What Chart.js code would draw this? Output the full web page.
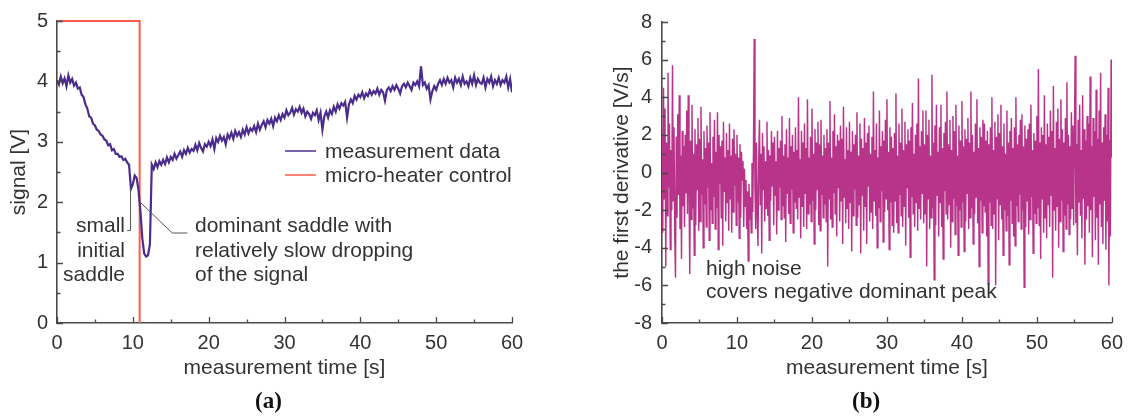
<!DOCTYPE html>
<html>
<head>
<meta charset="utf-8">
<script src="https://cdn.jsdelivr.net/npm/chart.js@4.4.1/dist/chart.umd.min.js"></script>
<style>
  html, body { margin: 0; padding: 0; background: #fff; }
  body { width: 1131px; height: 419px; position: relative; overflow: hidden; }
  .panel { position: absolute; top: 0; height: 419px; }
  #panelA { left: 0; width: 560px; }
  #panelB { left: 560px; width: 571px; }
  .tag { position: absolute; top: 388px; font: bold 23px "Liberation Serif", "DejaVu Serif", serif; color: #111; }
</style>
</head>
<body>
<div class="panel" id="panelA"><canvas id="chartA" width="560" height="419"></canvas></div>
<div class="panel" id="panelB"><canvas id="chartB" width="571" height="419"></canvas></div>
<div class="tag" style="left:255px">(a)</div>
<div class="tag" style="left:852px">(b)</div>
<script>
// signal [V], sampled every 0.25 s from 0 to 60 s
const signalStep = 0.25;
const signalValues = [
  4.02, 3.95, 4.08, 3.97, 4.05, 3.92, 4.10, 3.98,
  4.04, 3.93, 3.98, 3.88, 3.90, 3.78, 3.74, 3.62,
  3.55, 3.42, 3.40, 3.30, 3.27, 3.20, 3.18, 3.12,
  3.10, 3.04, 3.02, 2.94, 2.96, 2.86, 2.88, 2.80,
  2.80, 2.75, 2.76, 2.70, 2.72, 2.66, 2.62, 2.22,
  2.30, 2.44, 2.40, 2.20, 1.85, 1.40, 1.15, 1.10,
  1.12, 1.30, 2.62, 2.55, 2.66, 2.58, 2.68, 2.62,
  2.70, 2.63, 2.74, 2.66, 2.75, 2.70, 2.80, 2.72,
  2.78, 2.84, 2.75, 2.86, 2.80, 2.90, 2.82, 2.88,
  2.85, 2.95, 2.86, 2.98, 2.90, 2.84, 2.96, 2.92,
  3.00, 2.93, 3.04, 2.88, 3.06, 3.00, 3.10, 3.02,
  3.08, 2.96, 3.12, 3.06, 3.15, 3.05, 3.18, 3.10,
  3.16, 3.08, 3.20, 3.12, 3.24, 3.14, 3.22, 3.18,
  3.26, 3.16, 3.30, 3.20, 3.28, 3.34, 3.24, 3.36,
  3.30, 3.38, 3.26, 3.40, 3.34, 3.44, 3.36, 3.46,
  3.40, 3.52, 3.44, 3.48, 3.56, 3.45, 3.54, 3.50,
  3.58, 3.48, 3.55, 3.42, 3.50, 3.46, 3.38, 3.48,
  3.44, 3.52, 3.36, 3.48, 3.20, 3.42, 3.50, 3.40,
  3.52, 3.46, 3.58, 3.50, 3.62, 3.55, 3.64, 3.60,
  3.66, 3.40, 3.62, 3.70, 3.64, 3.76, 3.70, 3.78,
  3.74, 3.82, 3.72, 3.80, 3.76, 3.85, 3.78, 3.84,
  3.80, 3.88, 3.78, 3.86, 3.82, 3.68, 3.86, 3.90,
  3.84, 3.92, 3.86, 3.94, 3.88, 3.80, 3.92, 3.96,
  3.90, 3.98, 3.92, 3.86, 3.98, 3.94, 4.00, 3.92,
  4.25, 3.94, 3.98, 3.88, 3.94, 3.70, 3.84, 3.92,
  3.86, 3.96, 4.02, 3.94, 4.04, 3.96, 4.06, 3.98,
  4.02, 3.90, 4.06, 3.98, 4.04, 3.94, 4.08, 3.96,
  4.00, 3.92, 4.06, 3.96, 4.10, 3.94, 4.04, 3.98,
  3.96, 4.06, 3.90, 4.04, 3.98, 4.08, 3.92, 4.02,
  3.96, 4.06, 3.94, 4.02, 3.98, 4.08, 3.90, 4.04,
  3.82
];

// micro-heater control step
const heaterTimes = [0, 10.9, 10.9];
const heaterValues = [5, 5, 0];

// first derivative [V/s], sampled every 0.1 s from 0 to 60 s (one row per second)
const derivStep = 0.1;
const derivValues = [
  2.1, -3.2, 4.5, -1.4, 3.4, -5.0, 1.6, -2.3, 5.3, -0.8,
  2.6, -4.1, 1.2, -2.0, 5.7, -1.5, 2.4, -3.3, -5.6, 1.9,
  -2.4, 3.1, -1.2, 4.1, -3.0, 0.9, -4.6, 2.2, -1.8, 1.4,
  -2.9, 2.0, -1.1, 3.3, -2.2, 4.1, -0.6, -5.4, 1.7, -2.5,
  3.6, -1.9, 1.0, -4.4, 2.3, -2.8, 1.5, -0.9, 2.9, -3.1,
  1.8, -2.6, 3.5, -1.2, 0.7, -4.0, 2.2, -1.7, 1.3, -2.9,
  2.5, -0.8, 1.6, -3.6, 3.2, -2.0, 0.5, -2.7, 1.9, -1.3,
  2.8, -3.0, 1.1, -1.9, 3.2, -4.1, 2.0, -0.6, 1.4, -2.4,
  1.7, -3.9, 2.7, -1.0, 0.8, -2.6, 2.1, -1.6, 1.2, -3.1,
  2.6, -1.4, 0.9, -3.2, 1.8, -2.1, 2.3, -0.7, 1.0, -2.8,
  2.0, -1.6, 0.8, -3.5, 1.5, -2.4, 1.1, -0.4, 0.6, -2.9,
  0.2, -1.8, -0.4, -3.0, -1.0, -4.7, -0.6, -2.5, -1.3, -3.2,
  0.5, -2.1, 1.2, 7.1, -0.9, -3.0, 1.6, -2.2, -3.9, 0.7,
  2.8, -1.7, 1.0, -4.3, 2.1, -0.9, 1.4, -2.6, 0.6, -1.9,
  2.7, -2.3, 1.2, -3.6, 0.9, -1.5, 2.2, -0.7, 1.6, -2.8,
  1.9, -1.2, 0.6, -3.3, 2.2, -2.0, 1.3, -0.8, 1.7, -2.5,
  3.0, -1.8, 0.9, -2.4, 1.5, -3.7, 2.3, -1.1, 0.8, -2.2,
  2.9, -2.7, 1.4, -0.9, 2.0, -3.2, 1.1, -1.6, 2.4, -1.9,
  1.2, -2.5, 4.0, -1.3, 0.7, -3.5, 2.2, -1.8, 1.6, -2.9,
  2.6, -1.1, 1.3, -3.0, 3.9, -2.2, 0.8, -1.7, 1.9, -2.6,
  3.4, -1.5, 1.0, -3.8, 2.3, -2.0, 1.6, -0.9, 2.7, -2.8,
  1.5, -3.1, 2.8, -1.2, 0.9, -2.4, 2.0, -1.7, 1.3, -2.6,
  2.3, -5.0, 1.6, -1.4, 3.8, -2.5, 0.8, -2.9, 2.2, -1.1,
  3.1, -2.2, 1.4, -3.4, 2.0, -0.8, 1.7, -2.6, 2.5, -1.5,
  1.8, -3.8, 3.5, -1.3, 0.7, -2.7, 2.4, -1.9, 1.2, -3.0,
  2.7, -1.6, 1.1, -4.2, 2.2, -2.3, 1.5, -0.9, 2.0, -2.8,
  3.2, -2.4, 0.9, -1.7, 2.6, -4.3, 1.8, -1.2, 1.3, -3.1,
  2.9, -1.8, 1.6, -3.8, 2.1, -0.7, 2.5, -2.6, 1.0, -2.1,
  1.9, -3.0, 4.3, -1.5, 1.2, -2.3, 2.6, -4.0, 0.8, -1.9,
  3.3, -2.6, 1.4, -1.0, 2.2, -3.7, 1.7, -2.1, 2.8, -1.4,
  3.9, -2.0, 1.1, -4.1, 2.4, -1.6, 1.9, -2.8, 1.3, -3.2,
  2.1, -1.5, 4.2, -2.7, 0.9, -3.2, 2.6, -1.2, 1.6, -2.3,
  3.4, -2.9, 1.2, -1.8, 2.7, -3.9, 1.5, -0.8, 2.3, -2.4,
  1.7, -4.5, 2.4, -1.3, 3.7, -2.2, 1.0, -2.9, 2.0, -1.6,
  2.6, -3.1, 5.0, -1.9, 1.4, -2.5, 2.2, -1.1, 3.3, -2.7,
  1.5, -2.2, 3.3, -5.0, 2.0, -1.4, 2.8, -3.0, 0.9, -2.4,
  5.2, -1.9, 1.6, -5.7, 2.5, -2.8, 3.6, -1.2, 1.1, -3.4,
  2.4, -1.6, 3.6, -2.9, 1.3, -4.6, 2.1, -1.0, 2.7, -2.2,
  4.3, -2.5, 1.5, -1.7, 2.8, -4.0, 1.2, -2.6, 3.0, -1.4,
  2.2, -3.3, 3.6, -1.8, 0.9, -4.4, 2.5, -2.0, 1.7, -2.9,
  3.8, -1.6, 1.4, -4.2, 2.3, -2.6, 1.8, -1.1, 2.9, -3.0,
  1.6, -2.4, 4.3, -1.9, 2.0, -3.8, 1.1, -2.2, 2.6, -1.3,
  3.9, -2.7, 1.3, -5.0, 2.4, -1.5, 1.9, -3.2, 2.8, -1.8,
  2.6, -2.1, 1.7, -3.4, 2.2, -5.9, 1.5, -1.6, 2.4, -2.8,
  4.0, -3.0, 1.2, -2.2, 2.7, -6.0, 1.9, -1.4, 3.1, -3.6,
  2.1, -1.7, 3.6, -2.5, 1.4, -4.4, 2.6, -2.0, 1.0, -3.1,
  3.3, -2.3, 1.6, -4.9, 2.2, -1.5, 2.9, -2.7, 1.3, -3.4,
  2.4, -3.9, 4.0, -1.8, 1.5, -2.6, 2.0, -1.2, 2.8, -3.0,
  3.1, -2.0, 1.4, -6.1, 2.5, -2.9, 1.8, -1.5, 2.3, -3.3,
  2.6, -2.5, 3.6, -1.3, 1.2, -4.3, 2.1, -2.2, 1.7, -2.7,
  3.0, -1.9, 5.5, -2.8, 1.6, -4.6, 2.4, -1.4, 2.0, -3.2,
  4.1, -2.4, 1.5, -3.5, 2.6, -1.7, 1.9, -2.9, 3.3, -1.2,
  2.2, -5.6, 4.6, -2.0, 1.3, -3.1, 2.7, -1.8, 3.4, -4.0,
  1.8, -2.6, 3.9, -1.5, 2.3, -4.2, 1.6, -2.3, 2.9, -3.0,
  4.8, -1.7, 2.0, -3.3, 1.4, -2.5, 3.2, -1.9, 2.5, -2.8,
  1.9, 6.2, -2.7, 1.5, -4.4, 2.8, -1.6, 3.6, -2.3, 1.2,
  -3.5, 4.1, -1.4, 2.3, -4.9, 1.7, -2.5, 3.0, -1.8, 2.6,
  -3.2, 5.1, -2.0, 1.4, -4.5, 2.9, -1.3, 2.2, -3.6, 4.4,
  -2.4, 1.8, -4.9, 3.3, -1.7, 5.3, -2.9, 1.6, -3.8, 2.4,
  -1.5, 3.1, -4.1, 2.0, -2.6, 4.5, -6.0, 1.7, -3.4, 6.0,
  0.8
];

const FONT = '"Liberation Sans", Arial, sans-serif';
const TEXT = '#333333';
const AXIS = '#4a4a4a';

// inward major + minor ticks, the way the original plots draw them
const innerTicks = {
  id: 'innerTicks',
  afterDatasetsDraw(chart) {
    const { ctx, chartArea, scales } = chart;
    const xs = scales.x, ys = scales.y;
    const xStep = chart.options.scales.x.ticks.stepSize;
    const yStep = chart.options.scales.y.ticks.stepSize;
    ctx.save();
    ctx.strokeStyle = AXIS;
    ctx.lineWidth = 1.3;
    ctx.beginPath();
    for (let i = 0; xs.min + i * xStep / 2 <= xs.max + 1e-9; i++) {
      const px = Math.round(xs.getPixelForValue(xs.min + i * xStep / 2)) + 0.5;
      const len = i % 2 === 0 ? 6 : 3.5;
      ctx.moveTo(px, chartArea.bottom);
      ctx.lineTo(px, chartArea.bottom - len);
    }
    for (let i = 0; ys.min + i * yStep / 2 <= ys.max + 1e-9; i++) {
      const py = Math.round(ys.getPixelForValue(ys.min + i * yStep / 2)) + 0.5;
      const len = i % 2 === 0 ? 6 : 3.5;
      ctx.moveTo(chartArea.left, py);
      ctx.lineTo(chartArea.left + len, py);
    }
    ctx.stroke();
    ctx.restore();
  }
};

// legend and call-outs of panel (a)
const notesA = {
  id: 'notesA',
  afterDatasetsDraw(chart) {
    const { ctx, scales: { x, y } } = chart;
    ctx.save();
    ctx.font = '21px ' + FONT;
    ctx.fillStyle = TEXT;
    chart.data.datasets.forEach((ds, i) => {
      const ly = 151 + i * 24;
      ctx.strokeStyle = ds.borderColor;
      ctx.lineWidth = 1.5;
      ctx.beginPath();
      ctx.moveTo(285, ly);
      ctx.lineTo(316, ly);
      ctx.stroke();
      ctx.textAlign = 'left';
      ctx.fillText(ds.label, 325, ly + 7);
    });

    ctx.strokeStyle = '#555555';
    ctx.lineWidth = 1;
    ctx.beginPath();
    ctx.moveTo(x.getPixelForValue(9.7), y.getPixelForValue(2.24));
    ctx.lineTo(x.getPixelForValue(9.7), y.getPixelForValue(1.53));
    ctx.lineTo(x.getPixelForValue(9.25), y.getPixelForValue(1.53));
    ctx.moveTo(x.getPixelForValue(10.95), y.getPixelForValue(2.0));
    ctx.lineTo(x.getPixelForValue(15.2), y.getPixelForValue(1.49));
    ctx.lineTo(x.getPixelForValue(17.2), y.getPixelForValue(1.49));
    ctx.stroke();

    ctx.textAlign = 'right';
    ['small', 'initial', 'saddle'].forEach((s, i) => ctx.fillText(s, 125, 232 + i * 24.5));
    ctx.textAlign = 'left';
    ['dominant saddle with', 'relatively slow dropping', 'of the signal']
      .forEach((s, i) => ctx.fillText(s, 195, 232 + i * 24.5));
    ctx.restore();
  }
};

const notesB = {
  id: 'notesB',
  afterDatasetsDraw(chart) {
    const { ctx } = chart;
    ctx.save();
    ctx.font = '21px ' + FONT;
    ctx.fillStyle = TEXT;
    ctx.textAlign = 'left';
    ctx.fillText('high noise', 146, 275);
    ctx.fillText('covers negative dominant peak', 146, 298);
    ctx.restore();
  }
};

function axisOpts(min, max, step, title, pad, fitSize, titlePad, horizontal) {
  return {
    type: 'linear',
    min: min,
    max: max,
    grid: { display: false, drawTicks: false },
    border: { display: true, color: AXIS, width: 1.6 },
    ticks: { stepSize: step, padding: pad, color: TEXT, font: { family: FONT, size: 20 } },
    title: { display: true, text: title, color: TEXT, font: { family: FONT, size: 21 }, padding: titlePad },
    afterFit(scale) {
      if (horizontal) scale.height = fitSize; else scale.width = fitSize;
    }
  };
}

const signalData = signalValues.map((v, i) => ({ x: i * signalStep, y: v }));
const heaterData = heaterTimes.map((t, i) => ({ x: t, y: heaterValues[i] }));
const derivData = derivValues.map((v, i) => ({ x: i * derivStep, y: v }));

new Chart(document.getElementById('chartA'), {
  type: 'line',
  data: {
    datasets: [
      { label: 'measurement data', data: signalData, borderColor: '#4a2c8c', borderWidth: 2.2, pointRadius: 0, tension: 0 },
      { label: 'micro-heater control', data: heaterData, borderColor: '#ff5a4b', borderWidth: 2, pointRadius: 0, tension: 0, clip: false }
    ]
  },
  options: {
    responsive: false,
    animation: false,
    layout: { padding: { left: 0, top: 20, right: 48, bottom: 36 } },
    plugins: { legend: { display: false }, tooltip: { enabled: false } },
    scales: {
      x: axisOpts(0, 60, 10, 'measurement time [s]', 8, 60, { top: 0, bottom: 2.4 }, true),
      y: axisOpts(0, 5, 1, 'signal [V]', 9, 57, { top: 6.4, bottom: 0 }, false)
    }
  },
  plugins: [innerTicks, notesA]
});

new Chart(document.getElementById('chartB'), {
  type: 'line',
  data: {
    datasets: [
      { label: 'first derivative', data: derivData, borderColor: '#b8348a', borderWidth: 1.45, pointRadius: 0, tension: 0 }
    ]
  },
  options: {
    responsive: false,
    animation: false,
    layout: { padding: { left: 40, top: 20, right: 15, bottom: 36 } },
    plugins: { legend: { display: false }, tooltip: { enabled: false } },
    scales: {
      x: axisOpts(0, 60, 10, 'measurement time [s]', 8, 60, { top: 0, bottom: 2.4 }, true),
      y: axisOpts(-8, 8, 2, 'the first derivative [V/s]', 10, 62, { top: 9.4, bottom: 0 }, false)
    }
  },
  plugins: [innerTicks, notesB]
});
</script>
</body>
</html>
